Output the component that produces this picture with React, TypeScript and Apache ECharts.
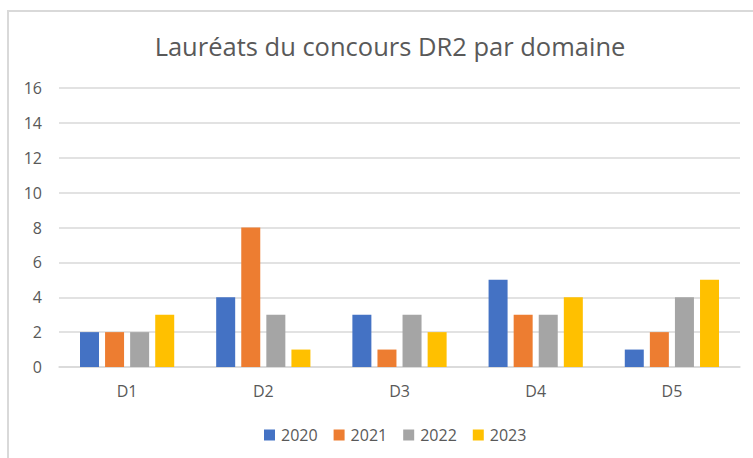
import React, { useEffect, useRef } from "react";
import * as echarts from "echarts";

const categories = ["D1", "D2", "D3", "D4", "D5"];
const seriesNames = ["2020", "2021", "2022", "2023"];
const values2020 = [2, 4, 3, 5, 1];
const values2021 = [2, 8, 1, 3, 2];
const values2022 = [2, 3, 3, 3, 4];
const values2023 = [3, 1, 2, 4, 5];
const colors = ["#4472C4", "#ED7D31", "#A5A5A5", "#FFC000"];
const titleText = "Lauréats du concours DR2 par domaine";

const FONT = "'Open Sans', 'Noto Sans', sans-serif";

export default function App() {
  const ref = useRef<HTMLDivElement>(null);
  useEffect(() => {
    if (!ref.current) return;
    const chart = echarts.init(ref.current, undefined, { renderer: "svg" });
    const allValues = [values2020, values2021, values2022, values2023];
    chart.setOption({
      animation: false,
      backgroundColor: "#ffffff",
      textStyle: { fontFamily: FONT },
      title: {
        text: titleText,
        left: 385,
        top: 28,
        textAlign: "center",
        textStyle: { fontFamily: FONT, fontSize: 25.5, fontWeight: "normal", color: "#595959" },
      },
      graphic: [
        {
          type: "rect",
          shape: { x: 8, y: 11, width: 800, height: 500 },
          style: { fill: "none", stroke: "#D9D9D9", lineWidth: 2 },
          silent: true,
          z: -1,
        },
      ],
      legend: {
        data: seriesNames,
        left: 259,
        top: 422,
        itemWidth: 11,
        itemHeight: 11,
        itemGap: 16,
        icon: "rect",
        textStyle: { fontFamily: FONT, fontSize: 16, color: "#595959", padding: [0, 0, 0, 1] },
      },
      grid: { left: 59, right: 13, top: 88, bottom: 91, containLabel: false },
      xAxis: {
        type: "category",
        data: categories,
        axisLine: { lineStyle: { color: "#D9D9D9", width: 1.5 } },
        axisTick: { show: false },
        axisLabel: { fontFamily: FONT, fontSize: 16, color: "#595959", margin: 16 },
      },
      yAxis: {
        type: "value",
        min: 0,
        max: 16,
        interval: 2,
        axisLine: { show: false },
        axisTick: { show: false },
        splitLine: { lineStyle: { color: "#D9D9D9", width: 1.5 } },
        axisLabel: { fontFamily: FONT, fontSize: 16, color: "#595959", margin: 17 },
      },
      series: seriesNames.map((name, i) => ({
        name,
        type: "bar",
        data: allValues[i],
        barWidth: 19,
        barGap: "32%",
        itemStyle: { color: colors[i] },
      })),
    });
    return () => chart.dispose();
  }, []);
  return (
    <div
      ref={ref}
      style={{ position: "fixed", left: 0, top: 0, width: 753, height: 458 }}
    />
  );
}
